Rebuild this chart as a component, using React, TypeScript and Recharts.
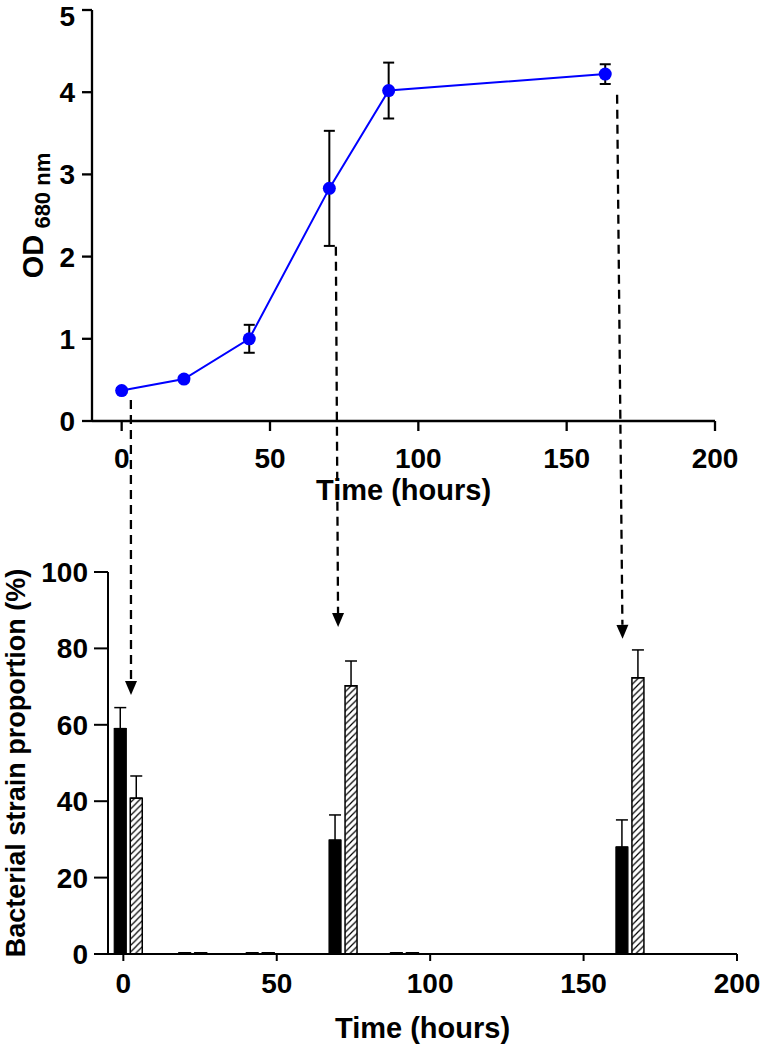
import {
  LineChart,
  Line,
  BarChart,
  Bar,
  XAxis,
  YAxis,
  ErrorBar,
} from "recharts";

// growth curve (top panel)
const growthTimes = [0, 21, 43, 70, 90, 163];
const odMeans = [0.37, 0.51, 1.0, 2.83, 4.02, 4.22];
const odSD = [0.03, 0.03, 0.17, 0.7, 0.34, 0.12];
const odTicks = [0, 1, 2, 3, 4, 5];
const timeTicks = [0, 50, 100, 150, 200];

// strain proportions (bottom panel)
const sampleTimes = [1.5, 22.5, 44.5, 71.5, 91.5, 165];
const strainA = [59, 0.3, 0.3, 29.8, 0.3, 28];
const strainASD = [5.5, 0, 0, 6.6, 0, 7.1];
const strainB = [40.8, 0.3, 0.3, 70.2, 0.3, 72.3];
const strainBSD = [5.8, 0, 0, 6.5, 0, 7.3];
const pctTicks = [0, 20, 40, 60, 80, 100];

// dashed arrows: from (time, OD) on top panel to (time, %) on bottom panel
const arrowFrom = [
  [3.1, 0.255],
  [72.2, 2.12],
  [167, 3.97],
];
const arrowTo = [
  [2.5, 67.8],
  [70, 85.6],
  [162.7, 82.5],
];

const FONT = '"Liberation Sans", Arial, sans-serif';
const W = 760;
const TOP_H = 530;
const BOT_H = 523;

// plot boxes (page coords) matching the chart margins below
const top = { left: 92, right: 715, top: 10, bottom: 421, x: [-10, 200], y: [0, 5] };
const bot = { left: 108, right: 737, top: TOP_H + 42, bottom: TOP_H + BOT_H - 99, x: [-5, 200], y: [0, 100] };

const mapX = (b: typeof top, t: number) =>
  b.left + ((t - b.x[0]) / (b.x[1] - b.x[0])) * (b.right - b.left);
const mapY = (b: typeof top, v: number) =>
  b.bottom - ((v - b.y[0]) / (b.y[1] - b.y[0])) * (b.bottom - b.top);

const growth = growthTimes.map((t, i) => ({ time: t, od: odMeans[i], odErr: odSD[i] }));
const strains = sampleTimes.map((t, i) => ({
  time: t,
  a: strainA[i],
  aErr: [0, strainASD[i]],
  b: strainB[i],
  bErr: [0, strainBSD[i]],
}));

const tickStyle = { fill: "#000", fontSize: 28, fontWeight: 700, fontFamily: FONT };
const axisStyle = { stroke: "#000", strokeWidth: 2.3 };

export default function App() {
  return (
    <div style={{ position: "absolute", left: 0, top: 0, width: W, height: TOP_H + BOT_H, background: "#fff" }}>
      <LineChart width={W} height={TOP_H} data={growth} margin={{ top: 10, right: 45, left: 0, bottom: 0 }}>
        <XAxis
          dataKey="time"
          type="number"
          domain={top.x}
          ticks={timeTicks}
          allowDataOverflow
          height={109}
          tickSize={10}
          tickMargin={17}
          axisLine={axisStyle}
          tickLine={axisStyle}
          tick={tickStyle}
          label={{
            content: ({ viewBox }: any) => (
              <text
                x={viewBox.x + viewBox.width / 2}
                y={viewBox.y + 79}
                textAnchor="middle"
                fontSize={29}
                fontWeight={700}
                fontFamily={FONT}
                fill="#000"
              >
                Time (hours)
              </text>
            ),
          }}
        />
        <YAxis
          type="number"
          domain={top.y}
          ticks={odTicks}
          width={92}
          tickSize={10}
          tickMargin={7}
          axisLine={axisStyle}
          tickLine={axisStyle}
          tick={tickStyle}
          label={{
            content: ({ viewBox }: any) => {
              const x = viewBox.x + 43;
              const y = viewBox.y + viewBox.height / 2;
              return (
                <text
                  x={x}
                  y={y}
                  transform={`rotate(-90, ${x}, ${y})`}
                  textAnchor="middle"
                  fontWeight={700}
                  fontFamily={FONT}
                  fill="#000"
                >
                  <tspan fontSize={29}>OD</tspan>
                  <tspan fontSize={22} dy={7}> 680 nm</tspan>
                </text>
              );
            },
          }}
        />
        <Line
          dataKey="od"
          stroke="#0000ff"
          strokeWidth={2}
          dot={{ r: 6.5, fill: "#0000ff", stroke: "none" }}
          activeDot={false}
          isAnimationActive={false}
        >
          <ErrorBar dataKey="odErr" width={5.5} stroke="#000" strokeWidth={2} direction="y" />
        </Line>
      </LineChart>

      <BarChart
        width={W}
        height={BOT_H}
        data={strains}
        margin={{ top: 42, right: 23, left: 0, bottom: 0 }}
        barSize={12}
        barGap={4}
      >
        <defs>
          <pattern id="hatch" patternUnits="userSpaceOnUse" width={6.5} height={6.5}>
            <rect width={6.5} height={6.5} fill="#fff" />
            <path
              d="M0,6.5 L6.5,0 M-1.6,1.6 L1.6,-1.6 M4.9,8.1 L8.1,4.9"
              stroke="#000"
              strokeWidth={1.2}
            />
          </pattern>
        </defs>
        <XAxis
          dataKey="time"
          type="number"
          domain={bot.x}
          ticks={timeTicks}
          allowDataOverflow
          height={99}
          tickSize={7}
          tickMargin={12}
          axisLine={{ stroke: "#000", strokeWidth: 2 }}
          tickLine={{ stroke: "#000", strokeWidth: 2 }}
          tick={tickStyle}
          label={{
            content: ({ viewBox }: any) => (
              <text
                x={viewBox.x + viewBox.width / 2}
                y={viewBox.y + 84}
                textAnchor="middle"
                fontSize={29}
                fontWeight={700}
                fontFamily={FONT}
                fill="#000"
              >
                Time (hours)
              </text>
            ),
          }}
        />
        <YAxis
          type="number"
          domain={bot.y}
          ticks={pctTicks}
          width={108}
          tickSize={14}
          tickMargin={6}
          axisLine={{ stroke: "#000", strokeWidth: 2 }}
          tickLine={{ stroke: "#000", strokeWidth: 2 }}
          tick={tickStyle}
          label={{
            content: ({ viewBox }: any) => {
              const x = viewBox.x + 25;
              const y = viewBox.y + viewBox.height / 2;
              return (
                <text
                  x={x}
                  y={y}
                  transform={`rotate(-90, ${x}, ${y})`}
                  textAnchor="middle"
                  fontSize={27}
                  fontWeight={700}
                  fontFamily={FONT}
                  fill="#000"
                >
                  Bacterial strain proportion (%)
                </text>
              );
            },
          }}
        />
        <Bar dataKey="a" fill="#000" stroke="#000" strokeWidth={1.2} isAnimationActive={false}>
          <ErrorBar dataKey="aErr" width={6} stroke="#000" strokeWidth={1.5} direction="y" />
        </Bar>
        <Bar dataKey="b" fill="url(#hatch)" stroke="#000" strokeWidth={1.5} isAnimationActive={false}>
          <ErrorBar dataKey="bErr" width={6} stroke="#000" strokeWidth={1.5} direction="y" />
        </Bar>
      </BarChart>

      <svg
        width={W}
        height={TOP_H + BOT_H}
        style={{ position: "absolute", left: 0, top: 0, pointerEvents: "none" }}
      >
        {arrowFrom.map(([t0, v0], i) => {
          const [t1, v1] = arrowTo[i];
          const x0 = mapX(top, t0);
          const y0 = mapY(top, v0);
          const x1 = mapX(bot, t1);
          const y1 = mapY(bot, v1);
          const head = 14;
          const ang = Math.atan2(y1 - y0, x1 - x0);
          const bx = x1 - head * Math.cos(ang);
          const by = y1 - head * Math.sin(ang);
          const px = 6 * Math.sin(ang);
          const py = -6 * Math.cos(ang);
          return (
            <g key={i}>
              <line x1={x0} y1={y0} x2={bx} y2={by} stroke="#000" strokeWidth={2.3} strokeDasharray="9 6" />
              <polygon points={`${x1},${y1} ${bx + px},${by + py} ${bx - px},${by - py}`} fill="#000" />
            </g>
          );
        })}
      </svg>
    </div>
  );
}
